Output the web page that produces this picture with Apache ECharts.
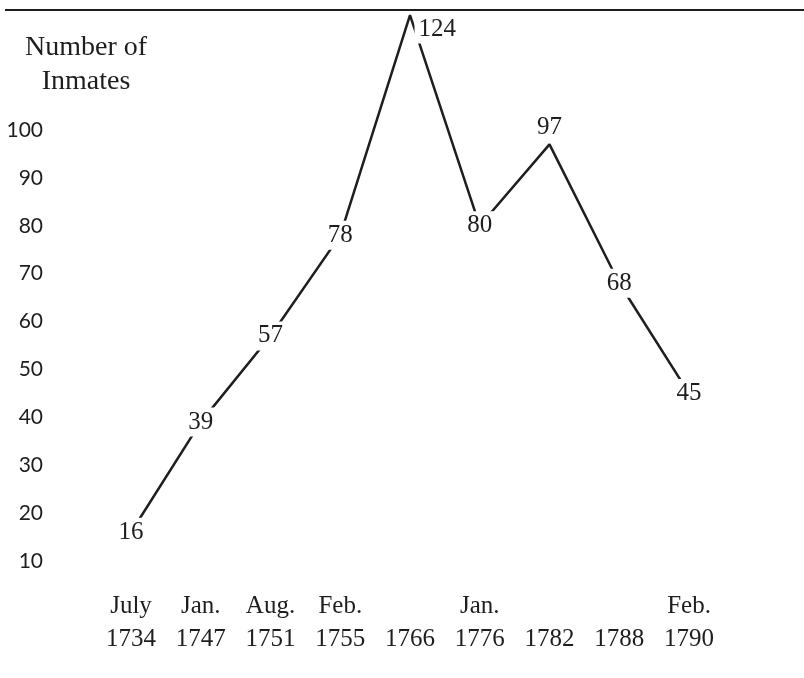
<!DOCTYPE html>
<html>
<head>
<meta charset="utf-8">
<script src="https://cdn.jsdelivr.net/npm/echarts@6/dist/echarts.min.js"></script>
<style>
  html, body { margin: 0; padding: 0; background: #fff; }
  #main { width: 804px; height: 678px; }
</style>
</head>
<body>
<div id="main"></div>
<script>
// dates of the counts (month line, year line)
var months = ['July', 'Jan.', 'Aug.', 'Feb.', '', 'Jan.', '', '', 'Feb.'];
var years = ['1734', '1747', '1751', '1755', '1766', '1776', '1782', '1788', '1790'];
// number of inmates
var inmates = [16, 39, 57, 78, 124, 80, 97, 68, 45];
var yTicks = { min: 10, max: 100, step: 10 };

var serif = 'Liberation Serif';
var ink = '#1e1e1e';

var categories = months.map(function(m, i) { return m + '\n' + years[i]; });

// peaks keep their number above the vertex, the rest sit on the line
// (a peak above the top tick gets its number beside it, under the rule)
var seriesData = inmates.map(function(v, i) {
	var prev = i > 0 ? inmates[i - 1] : -Infinity;
	var next = i < inmates.length - 1 ? inmates[i + 1] : -Infinity;
	var item = { value: v };
	if (v > prev && v > next) {
		item.label = v > yTicks.max
			? { position: 'right', distance: 4, offset: [0, 14] }
			: { position: 'top', distance: 2 };
	}
	return item;
});

var myChart = echarts.init(document.getElementById('main'));

var option = {
	animation: false,
	backgroundColor: '#fff',
	grid: {
		left: 131,
		right: 115,
		top: 130,
		bottom: 117,
		outerBoundsMode: 'none'
	},
	graphic: [
		{
			type: 'line',
			shape: { x1: 5, y1: 10, x2: 804, y2: 10 },
			style: { stroke: ink, lineWidth: 2 }
		},
		{
			type: 'text',
			x: 86,
			y: 31,
			style: {
				text: 'Number of\nInmates',
				fontFamily: serif,
				fontSize: 28,
				lineHeight: 34,
				align: 'center',
				verticalAlign: 'top',
				fill: ink
			}
		}
	],
	xAxis: {
		type: 'category',
		data: categories,
		boundaryGap: false,
		axisLine: { show: false },
		axisTick: { show: false },
		splitLine: { show: false },
		axisLabel: {
			margin: 29,
			fontFamily: serif,
			fontSize: 25,
			lineHeight: 33,
			color: ink,
			interval: 0
		}
	},
	yAxis: {
		type: 'value',
		min: yTicks.min,
		max: yTicks.max,
		interval: yTicks.step,
		axisLine: { show: false },
		axisTick: { show: false },
		splitLine: { show: false },
		axisLabel: {
			margin: 88,
			fontFamily: 'Lato',
			fontSize: 21,
			color: ink
		}
	},
	series: [{
		type: 'line',
		data: seriesData,
		clip: false,
		symbol: 'circle',
		symbolSize: 1,
		itemStyle: { color: 'rgba(0,0,0,0)', borderWidth: 0 },
		lineStyle: { color: ink, width: 2.5 },
		label: {
			show: true,
			position: 'inside',
			fontFamily: serif,
			fontSize: 25,
			color: ink,
			backgroundColor: '#fff',
			padding: [2, 4]
		},
		emphasis: { disabled: true }
	}]
};

myChart.setOption(option);
</script>
</body>
</html>
